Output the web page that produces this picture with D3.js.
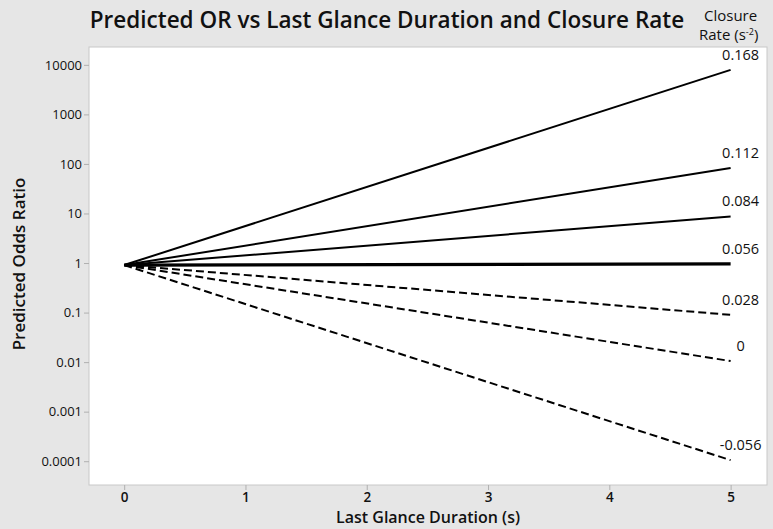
<!DOCTYPE html>
<html>
<head>
<meta charset="utf-8">
<script src="https://cdn.jsdelivr.net/npm/d3@7"></script>
<style>
  body { margin: 0; background: #e6e6e6; }
  svg { display: block; font-family: "Open Sans", "Noto Sans", sans-serif; }
</style>
</head>
<body>
<svg id="chart" width="773" height="529"></svg>
<script>
// closure rates (s^-2) and predicted odds ratio at glance 0 s and 5 s
const rates = ["0.168", "0.112", "0.084", "0.056", "0.028", "0", "-0.056"];
const glance = [0, 5];
const orStart = [0.91, 0.91, 0.91, 0.91, 0.91, 0.91, 0.91];
const orEnd = [7900, 83, 8.7, 0.96, 0.09, 0.0105, 0.000105];
const dashed = [false, false, false, false, true, true, true];

const xTicks = [0, 1, 2, 3, 4, 5];
const yTicks = [10000, 1000, 100, 10, 1, 0.1, 0.01, 0.001, 0.0001];

const svg = d3.select("#chart");
const plot = { left: 89, right: 767, top: 47, bottom: 485 };

const x = d3.scaleLinear().domain([-0.29, 5.3]).range([plot.left, plot.right]);
const y = d3.scaleLog().domain([Math.pow(10, -4.48), Math.pow(10, 4.36)]).range([plot.bottom, plot.top]);

svg.append("rect")
  .attr("x", plot.left).attr("y", plot.top)
  .attr("width", plot.right - plot.left).attr("height", plot.bottom - plot.top)
  .attr("fill", "#fff").attr("stroke", "#c8c8c8");

// axes
const yAxis = svg.append("g")
  .attr("transform", `translate(${plot.left},0)`)
  .call(d3.axisLeft(y).tickValues(yTicks).tickSize(5).tickFormat(d => String(d)));
yAxis.select(".domain").remove();
yAxis.selectAll("line").attr("stroke", "#b0b0b0");
yAxis.selectAll("text").attr("font-size", 13).attr("fill", "#111")
  .attr("font-family", "'Open Sans', sans-serif").attr("x", -7);

const xAxis = svg.append("g")
  .attr("transform", `translate(0,${plot.bottom})`)
  .call(d3.axisBottom(x).tickValues(xTicks).tickSize(5).tickFormat(d3.format("d")));
xAxis.select(".domain").remove();
xAxis.selectAll("line").attr("stroke", "#b0b0b0");
xAxis.selectAll("text").attr("font-size", 13.5).attr("fill", "#111")
  .attr("font-weight", 600).attr("font-family", "'Open Sans', sans-serif").attr("dy", "0.7em");

// lines
const line = d3.line().x(d => x(d[0])).y(d => y(d[1]));

rates.forEach((r, i) => {
  const pts = [[glance[0], orStart[i]], [glance[1], orEnd[i]]];
  svg.append("path")
    .attr("d", line(pts))
    .attr("fill", "none")
    .attr("stroke", "#000")
    .attr("stroke-width", r === "0.056" ? 3.2 : 2)
    .attr("stroke-dasharray", dashed[i] ? "8,4" : null);

  svg.append("text")
    .attr("x", x(glance[1]) + 10)
    .attr("y", y(orEnd[i]) - 10)
    .attr("text-anchor", "middle")
    .attr("font-size", 14.5)
    .attr("fill", "#111")
    .text(r);
});

// titles
svg.append("text")
  .attr("x", 387).attr("y", 28)
  .attr("text-anchor", "middle")
  .attr("font-size", 22.5).attr("font-weight", 600)
  .attr("fill", "#111")
  .text("Predicted OR vs Last Glance Duration and Closure Rate");

svg.append("text")
  .attr("x", (plot.left + plot.right) / 2).attr("y", 523)
  .attr("text-anchor", "middle")
  .attr("font-size", 16).attr("font-weight", 600)
  .attr("fill", "#111")
  .text("Last Glance Duration (s)");

svg.append("text")
  .attr("transform", "translate(25,264) rotate(-90)")
  .attr("text-anchor", "middle")
  .attr("font-size", 17).attr("font-weight", 600)
  .attr("fill", "#111")
  .text("Predicted Odds Ratio");

svg.append("text")
  .attr("x", 704).attr("y", 21)
  .attr("font-size", 15).attr("fill", "#111")
  .text("Closure");

const rt = svg.append("text")
  .attr("x", 699).attr("y", 40)
  .attr("font-size", 15).attr("fill", "#111");
rt.append("tspan").text("Rate (s");
rt.append("tspan").attr("dy", -5).attr("font-size", 9).text("-2");
rt.append("tspan").attr("dy", 5).text(")");
</script>
</body>
</html>
